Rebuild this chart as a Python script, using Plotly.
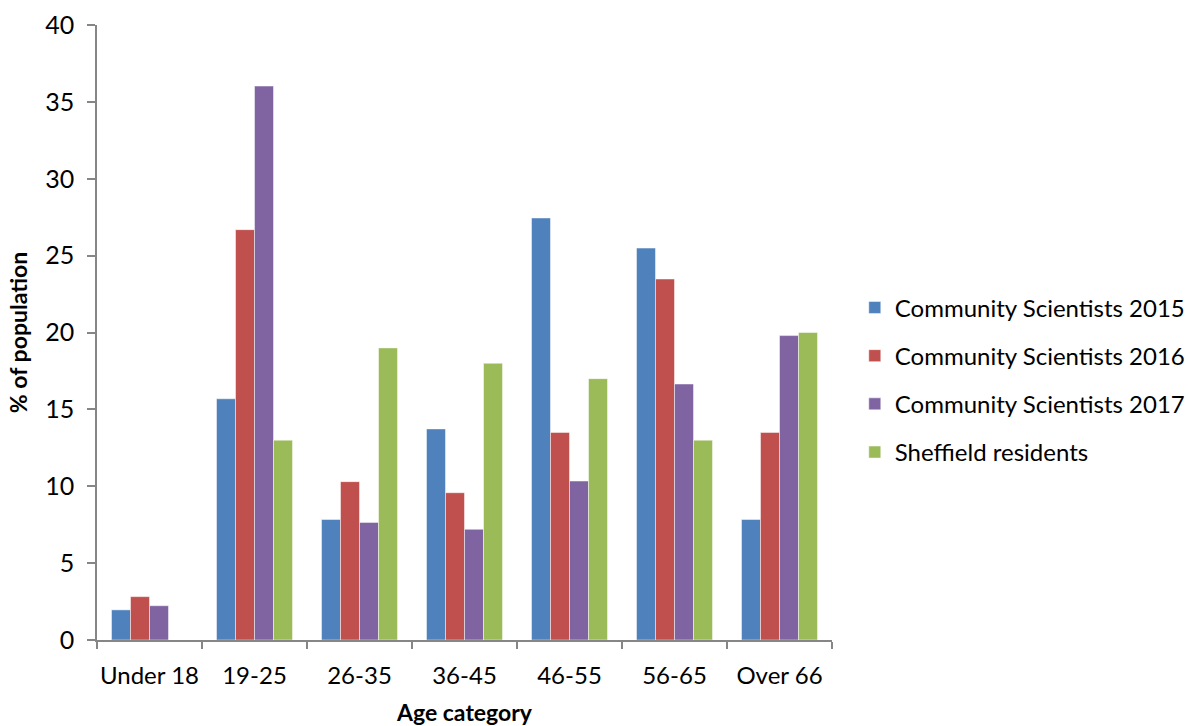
import plotly.graph_objects as go

# Age categories and share of each group (%)
categories = ["Under 18", "19-25", "26-35", "36-45", "46-55", "56-65", "Over 66"]
cs_2015 = [1.96, 15.69, 7.84, 13.73, 27.45, 25.49, 7.84]
cs_2016 = [2.82, 26.69, 10.3, 9.58, 13.5, 23.48, 13.5]
cs_2017 = [2.23, 36.03, 7.65, 7.2, 10.34, 16.65, 19.8]
sheffield = [0, 13.0, 19.0, 18.0, 17.0, 13.0, 20.0]

series_names = ["Community Scientists 2015", "Community Scientists 2016",
                "Community Scientists 2017", "Sheffield residents"]
series_values = [cs_2015, cs_2016, cs_2017, sheffield]
series_colors = ["#4F81BD", "#C0504D", "#8064A2", "#9BBB59"]

FONT = "Lato"

fig = go.Figure()
for name, vals, col in zip(series_names, series_values, series_colors):
    fig.add_trace(go.Bar(
        x=categories, y=vals, name=name, legendgroup=name,
        marker=dict(color=col, line=dict(color="rgba(255,255,255,0.6)", width=0.8)),
    ))

axis_gray = "#868686"
fig.update_layout(
    width=1190, height=726,
    margin=dict(l=97, r=358, t=25, b=86, autoexpand=False),
    paper_bgcolor="white", plot_bgcolor="white",
    barmode="group", bargap=0.276, bargroupgap=0,
    font=dict(family=FONT, size=24, color="#000000"),
    legend=dict(x=1.031, y=0.423, xanchor="left", yanchor="middle",
                traceorder="grouped", tracegroupgap=14,
                font=dict(family=FONT, size=24)),
    xaxis=dict(
        type="category", tickson="boundaries", ticks="outside", ticklen=7,
        tickcolor=axis_gray, tickwidth=1.5, showline=True, linecolor=axis_gray,
        linewidth=1.5, showgrid=False, ticklabelstandoff=13, tickangle=0,
        automargin=False,
        title=dict(text="<b>Age category</b>", font=dict(family=FONT, size=23), standoff=22),
        tickfont=dict(family=FONT, size=24),
    ),
    yaxis=dict(
        range=[0, 40], dtick=5, ticks="outside", ticklen=8, tickcolor=axis_gray,
        tickwidth=1.5, showline=True, linecolor=axis_gray, linewidth=1.5,
        showgrid=False, zeroline=False, ticklabelstandoff=8, automargin=False,
        title=dict(text="<b>% of population</b>", font=dict(family=FONT, size=23), standoff=11),
        tickfont=dict(family=FONT, size=25),
    ),
)

fig.write_html("out.html")
